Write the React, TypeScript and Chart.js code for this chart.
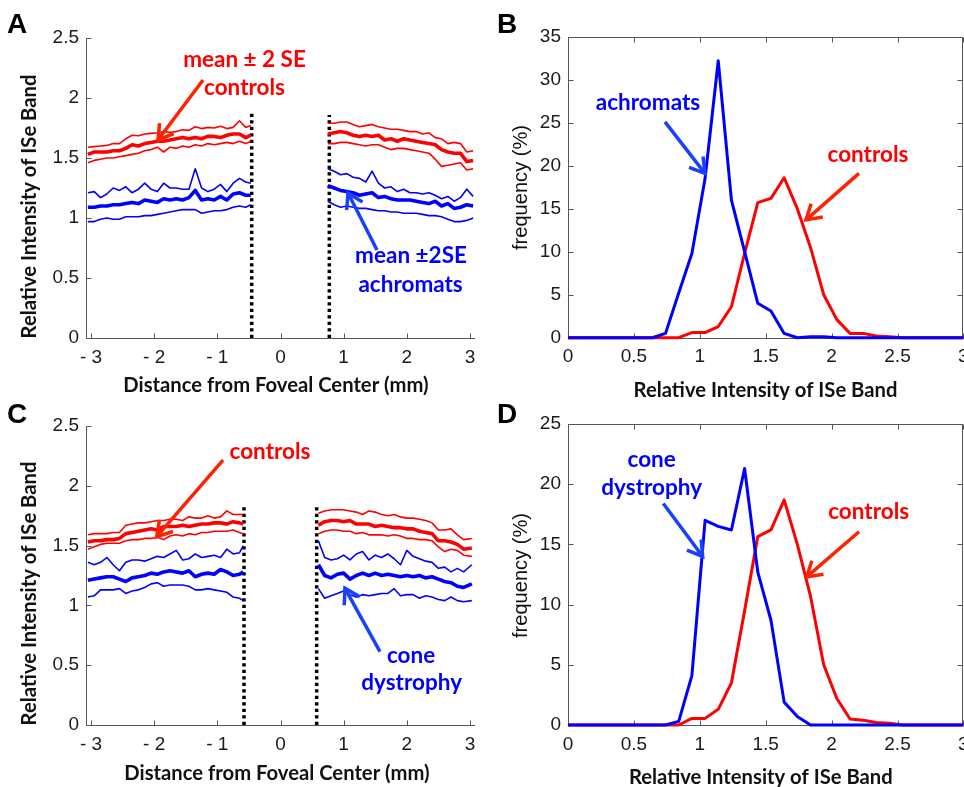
import React, { useEffect, useRef } from "react";
import { Chart, registerables } from "chart.js";

Chart.register(...registerables);

// ---------------- Panel A data (distance from foveal center, mm) ----------------
const distLeftA = [-3.05, -2.95, -2.85, -2.75, -2.65, -2.55, -2.45, -2.35, -2.25, -2.15, -2.05, -1.95, -1.85, -1.75, -1.65, -1.55, -1.45, -1.35, -1.25, -1.15, -1.05, -0.95, -0.85, -0.75, -0.65, -0.55, -0.47];
const distRightA = [0.75, 0.85, 0.95, 1.05, 1.15, 1.25, 1.35, 1.45, 1.55, 1.65, 1.75, 1.85, 1.95, 2.05, 2.15, 2.25, 2.35, 2.45, 2.55, 2.65, 2.75, 2.85, 2.95, 3.05];

const ctrlUpperLeftA = [1.59, 1.595, 1.6, 1.605, 1.62, 1.62, 1.66, 1.69, 1.685, 1.7, 1.705, 1.71, 1.72, 1.715, 1.72, 1.735, 1.73, 1.76, 1.745, 1.755, 1.75, 1.765, 1.745, 1.755, 1.81, 1.755, 1.77];
const ctrlMeanLeftA = [1.53, 1.55, 1.55, 1.55, 1.56, 1.56, 1.58, 1.61, 1.6, 1.62, 1.63, 1.64, 1.64, 1.65, 1.66, 1.67, 1.66, 1.67, 1.66, 1.68, 1.68, 1.67, 1.69, 1.7, 1.7, 1.67, 1.69];
const ctrlLowerLeftA = [1.46, 1.48, 1.49, 1.5, 1.5, 1.51, 1.52, 1.53, 1.54, 1.56, 1.57, 1.59, 1.55, 1.59, 1.58, 1.6, 1.59, 1.61, 1.6, 1.62, 1.61, 1.62, 1.63, 1.62, 1.64, 1.62, 1.64];
const achUpperLeftA = [1.21, 1.22, 1.17, 1.2, 1.25, 1.23, 1.26, 1.21, 1.24, 1.29, 1.24, 1.22, 1.29, 1.25, 1.25, 1.24, 1.24, 1.41, 1.25, 1.22, 1.24, 1.28, 1.22, 1.29, 1.33, 1.3, 1.29];
const achMeanLeftA = [1.09, 1.09, 1.1, 1.1, 1.11, 1.11, 1.12, 1.13, 1.12, 1.15, 1.14, 1.13, 1.16, 1.15, 1.16, 1.15, 1.17, 1.23, 1.15, 1.16, 1.15, 1.18, 1.15, 1.2, 1.21, 1.19, 1.19];
const achLowerLeftA = [0.97, 0.97, 0.99, 1.0, 0.99, 0.99, 1.01, 1.01, 1.01, 1.02, 1.02, 1.03, 1.04, 1.05, 1.06, 1.07, 1.07, 1.07, 1.04, 1.05, 1.06, 1.06, 1.07, 1.09, 1.1, 1.09, 1.11];

const ctrlUpperRightA = [1.79, 1.79, 1.8, 1.8, 1.78, 1.76, 1.77, 1.78, 1.76, 1.75, 1.74, 1.74, 1.73, 1.72, 1.72, 1.7, 1.71, 1.67, 1.66, 1.62, 1.63, 1.62, 1.55, 1.56];
const ctrlMeanRightA = [1.7, 1.71, 1.72, 1.71, 1.69, 1.68, 1.69, 1.68, 1.69, 1.65, 1.66, 1.64, 1.66, 1.65, 1.64, 1.63, 1.62, 1.61, 1.57, 1.55, 1.54, 1.54, 1.47, 1.48];
const ctrlLowerRightA = [1.62, 1.62, 1.63, 1.63, 1.62, 1.61, 1.6, 1.61, 1.61, 1.59, 1.57, 1.58, 1.58, 1.57, 1.56, 1.55, 1.54, 1.49, 1.43, 1.44, 1.45, 1.46, 1.4, 1.41];
const achUpperRightA = [1.41, 1.39, 1.36, 1.37, 1.34, 1.33, 1.3, 1.39, 1.29, 1.25, 1.26, 1.22, 1.24, 1.21, 1.21, 1.2, 1.21, 1.19, 1.16, 1.18, 1.14, 1.17, 1.24, 1.18];
const achMeanRightA = [1.27, 1.25, 1.23, 1.22, 1.21, 1.19, 1.2, 1.21, 1.17, 1.18, 1.16, 1.15, 1.15, 1.15, 1.14, 1.13, 1.12, 1.14, 1.1, 1.12, 1.08, 1.09, 1.11, 1.1];
const achLowerRightA = [1.14, 1.11, 1.09, 1.1, 1.09, 1.08, 1.08, 1.07, 1.06, 1.06, 1.05, 1.05, 1.04, 1.04, 1.04, 1.03, 1.02, 1.02, 1.01, 0.99, 0.97, 0.97, 0.98, 1.0];

// ---------------- Panel C data ----------------
const distLeftC = [-3.05, -2.95, -2.85, -2.75, -2.65, -2.55, -2.45, -2.35, -2.25, -2.15, -2.05, -1.95, -1.85, -1.75, -1.65, -1.55, -1.45, -1.35, -1.25, -1.15, -1.05, -0.95, -0.85, -0.75, -0.65, -0.59];
const distRightC = [0.6, 0.7, 0.8, 0.9, 1.0, 1.1, 1.2, 1.3, 1.4, 1.5, 1.6, 1.7, 1.8, 1.9, 2.0, 2.1, 2.2, 2.3, 2.4, 2.5, 2.6, 2.7, 2.8, 2.9, 3.03];

const ctrlUpperLeftC = [1.59, 1.6, 1.6, 1.6, 1.61, 1.61, 1.67, 1.68, 1.69, 1.69, 1.7, 1.71, 1.71, 1.72, 1.72, 1.71, 1.74, 1.73, 1.73, 1.75, 1.73, 1.74, 1.79, 1.76, 1.76, 1.76];
const ctrlMeanLeftC = [1.53, 1.54, 1.54, 1.55, 1.55, 1.56, 1.6, 1.61, 1.62, 1.63, 1.64, 1.63, 1.66, 1.66, 1.66, 1.67, 1.66, 1.67, 1.68, 1.68, 1.69, 1.69, 1.68, 1.7, 1.69, 1.68];
const ctrlLowerLeftC = [1.47, 1.49, 1.51, 1.52, 1.52, 1.52, 1.54, 1.55, 1.55, 1.56, 1.56, 1.57, 1.55, 1.58, 1.59, 1.58, 1.6, 1.59, 1.61, 1.61, 1.62, 1.62, 1.62, 1.63, 1.61, 1.6];
const coneUpperLeftC = [1.36, 1.34, 1.36, 1.4, 1.34, 1.29, 1.36, 1.38, 1.38, 1.37, 1.39, 1.41, 1.4, 1.43, 1.46, 1.38, 1.39, 1.43, 1.4, 1.41, 1.42, 1.4, 1.47, 1.43, 1.44, 1.5];
const coneMeanLeftC = [1.21, 1.22, 1.23, 1.24, 1.24, 1.22, 1.2, 1.23, 1.24, 1.25, 1.27, 1.26, 1.28, 1.29, 1.28, 1.27, 1.29, 1.24, 1.26, 1.27, 1.26, 1.3, 1.28, 1.25, 1.26, 1.28];
const coneLowerLeftC = [1.07, 1.08, 1.13, 1.13, 1.13, 1.14, 1.1, 1.12, 1.13, 1.15, 1.18, 1.19, 1.16, 1.17, 1.17, 1.17, 1.16, 1.13, 1.13, 1.14, 1.13, 1.12, 1.11, 1.07, 1.06, 1.04];

const ctrlUpperRightC = [1.77, 1.79, 1.8, 1.8, 1.8, 1.79, 1.78, 1.76, 1.79, 1.78, 1.76, 1.75, 1.76, 1.74, 1.73, 1.73, 1.72, 1.71, 1.69, 1.63, 1.63, 1.64, 1.59, 1.55, 1.56];
const ctrlMeanRightC = [1.67, 1.7, 1.71, 1.71, 1.7, 1.71, 1.68, 1.68, 1.68, 1.66, 1.67, 1.66, 1.65, 1.65, 1.64, 1.64, 1.62, 1.61, 1.6, 1.54, 1.54, 1.53, 1.51, 1.47, 1.48];
const ctrlLowerRightC = [1.6, 1.62, 1.63, 1.63, 1.62, 1.62, 1.6, 1.61, 1.59, 1.59, 1.59, 1.58, 1.59, 1.58, 1.56, 1.56, 1.55, 1.55, 1.54, 1.49, 1.45, 1.47, 1.46, 1.42, 1.41];
const coneUpperRightC = [1.54, 1.4, 1.38, 1.39, 1.42, 1.38, 1.43, 1.45, 1.38, 1.42, 1.4, 1.43, 1.39, 1.34, 1.46, 1.41, 1.39, 1.37, 1.36, 1.31, 1.32, 1.28, 1.31, 1.28, 1.34];
const coneMeanRightC = [1.34, 1.25, 1.23, 1.26, 1.27, 1.22, 1.25, 1.27, 1.25, 1.27, 1.25, 1.26, 1.25, 1.24, 1.25, 1.24, 1.25, 1.23, 1.24, 1.22, 1.2, 1.19, 1.16, 1.15, 1.18];
const coneLowerRightC = [1.14, 1.06, 1.08, 1.1, 1.12, 1.09, 1.07, 1.09, 1.08, 1.09, 1.1, 1.1, 1.14, 1.08, 1.09, 1.09, 1.06, 1.08, 1.07, 1.05, 1.04, 1.07, 1.04, 1.03, 1.04];

// fovea gap boundaries (dotted lines): [x, top]
const gapLeftA = [-0.456, 1.872];
const gapRightA = [0.773, 1.858];
const gapLeftC = [-0.578, 1.82];
const gapRightC = [0.573, 1.82];

// ---------------- Histograms (B, D) ----------------
const intensityBins = [0, 0.54, 0.64, 0.74, 0.84, 0.94, 1.04, 1.14, 1.24, 1.34, 1.44, 1.54, 1.64, 1.74, 1.84, 1.94, 2.04, 2.14, 2.24, 2.34, 2.44, 2.54, 2.64, 3.0];
const achromatFreq = [0, 0, 0, 0.5, 5.2, 9.8, 18.5, 32.2, 16.0, 10.0, 4.0, 3.1, 0.5, 0, 0.1, 0.1, 0, 0, 0, 0, 0, 0, 0, 0];
const controlFreqB = [0, 0, 0, 0, 0, 0.6, 0.6, 1.3, 3.6, 9.8, 15.7, 16.2, 18.6, 15.0, 10.5, 5.0, 2.1, 0.5, 0.5, 0.2, 0.1, 0, 0, 0];
const coneFreq = [0, 0, 0, 0, 0.3, 4.1, 17.0, 16.5, 16.2, 21.3, 12.7, 8.7, 1.9, 0.7, 0, 0, 0, 0, 0, 0, 0, 0, 0, 0];
const controlFreqD = [0, 0, 0, 0, 0, 0.55, 0.55, 1.3, 3.5, 9.5, 15.65, 16.2, 18.7, 15.0, 10.7, 5.0, 2.2, 0.5, 0.4, 0.2, 0.15, 0, 0, 0];

// ---------------- Ticks ----------------
const distTicks = [-3, -2, -1, 0, 1, 2, 3];
const distTickLabels = ["- 3", "- 2", "- 1", "0", "1", "2", "3"];
const intensityTicks = [0, 0.5, 1, 1.5, 2, 2.5];
const intensityTickLabels = ["0", "0.5", "1", "1.5", "2", "2.5"];
const histXTicks = [0, 0.5, 1, 1.5, 2, 2.5, 3];
const histXTickLabels = ["0", "0.5", "1", "1.5", "2", "2.5", "3"];
const freqTicksB = [0, 5, 10, 15, 20, 25, 30, 35];
const freqTickLabelsB = ["0", "5", "10", "15", "20", "25", "30", "35"];
const freqTicksD = [0, 5, 10, 15, 20, 25];
const freqTickLabelsD = ["0", "5", "10", "15", "20", "25"];

// ---------------- Styles ----------------
const RED = "#ff0000";
const BLUE = "#0000ff";
const ARROW_RED = "#ff2200";
const ARROW_BLUE = "#1a40ff";
const AXIS = "#555555";
const TICK_FONT = "'Liberation Sans', Arial, Helvetica, sans-serif";
const BOLD_FONT = "Lato, 'Open Sans', sans-serif";

function pts(xs: number[], ys: number[]) {
  return xs.map((x, i) => ({ x, y: ys[i] }));
}
function line(xs: number[], ys: number[], color: string, width: number) {
  return { data: pts(xs, ys), borderColor: color, backgroundColor: color, borderWidth: width, pointRadius: 0, tension: 0, fill: false, clip: false, borderJoinStyle: "round" };
}
function dotted(g: number[]) {
  return { data: [{ x: g[0], y: 0 }, { x: g[0], y: g[1] }], borderColor: "#000", borderWidth: 3.5, borderDash: [3.2, 3.3], pointRadius: 0, fill: false, clip: false };
}

function fitSize(ctx: CanvasRenderingContext2D, text: string, width: number, weight: string, family: string) {
  ctx.font = `${weight} 40px ${family}`;
  return (40 * width) / ctx.measureText(text).width;
}

function drawArrow(ctx: CanvasRenderingContext2D, x1: number, y1: number, x2: number, y2: number, color: string) {
  const ang = Math.atan2(y2 - y1, x2 - x1);
  const head = 17;
  const spread = 0.55;
  ctx.save();
  ctx.strokeStyle = color;
  ctx.lineWidth = 3.5;
  ctx.lineCap = "butt";
  ctx.lineJoin = "miter";
  ctx.beginPath();
  ctx.moveTo(x1, y1);
  ctx.lineTo(x2, y2);
  ctx.stroke();
  ctx.beginPath();
  ctx.moveTo(x2 - head * Math.cos(ang + spread), y2 - head * Math.sin(ang + spread));
  ctx.lineTo(x2, y2);
  ctx.lineTo(x2 - head * Math.cos(ang - spread), y2 - head * Math.sin(ang - spread));
  ctx.stroke();
  ctx.restore();
}

type Spec = any;

function Panel({ spec }: { spec: Spec }) {
  const ref = useRef<HTMLCanvasElement>(null);
  useEffect(() => {
    const s = spec;
    const canvas = ref.current as HTMLCanvasElement;
    const decor = {
      id: "decor",
      beforeDatasetsDraw(chart: any) {
        const { ctx, chartArea: a, scales } = chart;
        const xs = scales.x, ys = scales.y;
        const L = Math.round(a.left) + 0.5, R = Math.round(a.right) - 0.5, T = Math.round(a.top) + 0.5, B = Math.round(a.bottom) + 0.5;
        ctx.save();
        ctx.strokeStyle = AXIS;
        ctx.lineWidth = 1;
        ctx.beginPath();
        if (s.box) {
          ctx.rect(L, T, R - L, B - T);
        } else {
          ctx.moveTo(L, T);
          ctx.lineTo(L, B);
          ctx.lineTo(a.right, B);
        }
        const TL = 5;
        for (const v of s.xTicks) {
          const px = Math.round(xs.getPixelForValue(v)) + 0.5;
          ctx.moveTo(px, B);
          ctx.lineTo(px, B - TL);
          if (s.box) { ctx.moveTo(px, T); ctx.lineTo(px, T + TL); }
        }
        for (const v of s.yTicks) {
          const py = Math.round(ys.getPixelForValue(v)) + 0.5;
          ctx.moveTo(L, py);
          ctx.lineTo(L + TL, py);
          if (s.box) { ctx.moveTo(R, py); ctx.lineTo(R - TL, py); }
        }
        ctx.stroke();
        ctx.restore();
      },
      afterDatasetsDraw(chart: any) {
        const { ctx, scales } = chart;
        const xs = scales.x, ys = scales.y;
        ctx.save();
        const size = fitSize(ctx, "controls", 81, "700", BOLD_FONT);
        ctx.font = `700 ${size}px ${BOLD_FONT}`;
        ctx.textAlign = "center";
        ctx.textBaseline = "alphabetic";
        for (const t of s.texts) {
          ctx.fillStyle = t.color;
          ctx.fillText(t.text, xs.getPixelForValue(t.x), ys.getPixelForValue(t.y));
        }
        ctx.restore();
        for (const ar of s.arrows) {
          drawArrow(ctx, xs.getPixelForValue(ar.x1), ys.getPixelForValue(ar.y1), xs.getPixelForValue(ar.x2), ys.getPixelForValue(ar.y2), ar.color);
        }
      },
      afterDraw(chart: any) {
        const ctx = chart.ctx as CanvasRenderingContext2D;
        ctx.save();
        ctx.fillStyle = "#000";
        ctx.font = `700 28px ${TICK_FONT}`;
        ctx.textAlign = "left";
        ctx.textBaseline = "alphabetic";
        ctx.fillText(s.letter.text, s.letter.x, s.letter.y);
        const titleSize = fitSize(ctx, "Relative Intensity of ISe Band", 264, "700", BOLD_FONT);
        const drawTitle = (t: any) => {
          const size = t.bold ? titleSize : fitSize(ctx, t.text, t.width, "400", TICK_FONT);
          ctx.font = t.bold ? `700 ${size}px ${BOLD_FONT}` : `400 ${size}px ${TICK_FONT}`;
          ctx.fillStyle = "#111";
          ctx.textAlign = "center";
          ctx.textBaseline = "alphabetic";
          if (t.rotate) {
            ctx.save();
            ctx.translate(t.x, t.y);
            ctx.rotate(-Math.PI / 2);
            ctx.fillText(t.text, 0, 0);
            ctx.restore();
          } else {
            ctx.fillText(t.text, t.x, t.y);
          }
        };
        drawTitle(s.xTitle);
        drawTitle(s.yTitle);
        ctx.restore();
      },
    };
    const tickFont = { family: TICK_FONT, size: 19 };
    const chart = new Chart(canvas, {
      type: "line",
      data: { datasets: s.datasets },
      options: {
        responsive: false,
        animation: false,
        devicePixelRatio: 1,
        events: [],
        layout: { padding: { left: 0, top: s.area.t, right: s.W - s.area.r, bottom: 0 } },
        plugins: { legend: { display: false }, tooltip: { enabled: false }, title: { display: false } },
        scales: {
          x: {
            type: "linear",
            min: s.xMin,
            max: s.xMax,
            afterBuildTicks: (sc: any) => { sc.ticks = s.xTicks.map((v: number) => ({ value: v })); },
            afterFit: (sc: any) => { sc.height = s.H - s.area.b; sc.paddingLeft = 0; sc.paddingRight = 0; },
            grid: { display: false, drawTicks: false },
            border: { display: false },
            ticks: { callback: (_v: any, i: number) => s.xTickLabels[i], autoSkip: false, maxRotation: 0, minRotation: 0, padding: 8, color: "#1a1a1a", font: tickFont },
          },
          y: {
            type: "linear",
            min: s.yMin,
            max: s.yMax,
            afterBuildTicks: (sc: any) => { sc.ticks = s.yTicks.map((v: number) => ({ value: v })); },
            afterFit: (sc: any) => { sc.width = s.area.l; sc.paddingTop = 0; sc.paddingBottom = 0; },
            grid: { display: false, drawTicks: false },
            border: { display: false },
            ticks: { callback: (_v: any, i: number) => s.yTickLabels[i], autoSkip: false, padding: 7, color: "#1a1a1a", font: tickFont },
          },
        },
      } as any,
      plugins: [decor as any],
    });
    return () => chart.destroy();
  }, [spec]);
  return (
    <canvas
      ref={ref}
      width={spec.W}
      height={spec.H}
      style={{ position: "absolute", left: spec.left, top: spec.top, width: spec.W, height: spec.H }}
    />
  );
}

const THIN = 1.6;
const THICK = 3.6;

const specA = {
  left: 0, top: 0, W: 482, H: 400,
  area: { l: 86, t: 38, r: 475, b: 338 },
  xMin: -3.08, xMax: 3.08, yMin: 0, yMax: 2.5,
  xTicks: distTicks, xTickLabels: distTickLabels, yTicks: intensityTicks, yTickLabels: intensityTickLabels,
  box: false,
  datasets: [
    line(distLeftA, ctrlUpperLeftA, RED, THIN),
    line(distLeftA, ctrlMeanLeftA, RED, THICK),
    line(distLeftA, ctrlLowerLeftA, RED, THIN),
    line(distLeftA, achUpperLeftA, BLUE, THIN),
    line(distLeftA, achMeanLeftA, BLUE, THICK),
    line(distLeftA, achLowerLeftA, BLUE, THIN),
    line(distRightA, ctrlUpperRightA, RED, THIN),
    line(distRightA, ctrlMeanRightA, RED, THICK),
    line(distRightA, ctrlLowerRightA, RED, THIN),
    line(distRightA, achUpperRightA, BLUE, THIN),
    line(distRightA, achMeanRightA, BLUE, THICK),
    line(distRightA, achLowerRightA, BLUE, THIN),
    dotted(gapLeftA),
    dotted(gapRightA),
  ],
  texts: [
    { text: "mean ± 2 SE", x: -0.57, y: 2.26, color: RED },
    { text: "controls", x: -0.57, y: 2.025, color: RED },
    { text: "mean ±2SE", x: 2.067, y: 0.625, color: BLUE },
    { text: "achromats", x: 2.06, y: 0.386, color: BLUE },
  ],
  arrows: [
    { x1: -1.227, y1: 2.15, x2: -1.94, y2: 1.65, color: ARROW_RED },
    { x1: 1.528, y1: 0.733, x2: 1.069, y2: 1.208, color: ARROW_BLUE },
  ],
  letter: { text: "A", x: 7, y: 33 },
  yTitle: { text: "Relative Intensity of ISe Band", x: 36, y: 206.5, bold: true, rotate: true },
  xTitle: { text: "Distance from Foveal Center (mm)", x: 276, y: 392, bold: true },
};

const specB = {
  left: 482, top: 0, W: 482, H: 400,
  area: { l: 86, t: 36.7, r: 481.4, b: 337.7 },
  xMin: 0, xMax: 3, yMin: 0, yMax: 35,
  xTicks: histXTicks, xTickLabels: histXTickLabels, yTicks: freqTicksB, yTickLabels: freqTickLabelsB,
  box: true,
  datasets: [
    line(intensityBins, achromatFreq, BLUE, 3),
    line(intensityBins, controlFreqB, RED, 3),
  ],
  texts: [
    { text: "achromats", x: 0.607, y: 26.47, color: BLUE },
    { text: "controls", x: 2.276, y: 20.4, color: RED },
  ],
  arrows: [
    { x1: 0.736, y1: 25.1, x2: 1.039, y2: 19.1, color: ARROW_BLUE },
    { x1: 2.208, y1: 19.1, x2: 1.806, y2: 13.7, color: ARROW_RED },
  ],
  letter: { text: "B", x: 15, y: 33 },
  yTitle: { text: "frequency (%)", x: 45, y: 187.5, bold: false, rotate: true, width: 125 },
  xTitle: { text: "Relative Intensity of ISe Band", x: 283.5, y: 397, bold: true },
};

const specC = {
  left: 0, top: 400, W: 482, H: 387,
  area: { l: 86, t: 26, r: 475, b: 325 },
  xMin: -3.08, xMax: 3.08, yMin: 0, yMax: 2.5,
  xTicks: distTicks, xTickLabels: distTickLabels, yTicks: intensityTicks, yTickLabels: intensityTickLabels,
  box: false,
  datasets: [
    line(distLeftC, ctrlUpperLeftC, RED, THIN),
    line(distLeftC, ctrlMeanLeftC, RED, THICK),
    line(distLeftC, ctrlLowerLeftC, RED, THIN),
    line(distLeftC, coneUpperLeftC, BLUE, THIN),
    line(distLeftC, coneMeanLeftC, BLUE, THICK),
    line(distLeftC, coneLowerLeftC, BLUE, THIN),
    line(distRightC, ctrlUpperRightC, RED, THIN),
    line(distRightC, ctrlMeanRightC, RED, THICK),
    line(distRightC, ctrlLowerRightC, RED, THIN),
    line(distRightC, coneUpperRightC, BLUE, THIN),
    line(distRightC, coneMeanRightC, BLUE, THICK),
    line(distRightC, coneLowerRightC, BLUE, THIN),
    dotted(gapLeftC),
    dotted(gapRightC),
  ],
  texts: [
    { text: "controls", x: -0.166, y: 2.22, color: RED },
    { text: "cone", x: 2.067, y: 0.516, color: BLUE },
    { text: "dystrophy", x: 2.077, y: 0.293, color: BLUE },
  ],
  arrows: [
    { x1: -0.91, y1: 2.215, x2: -1.96, y2: 1.575, color: ARROW_RED },
    { x1: 1.575, y1: 0.613, x2: 1.021, y2: 1.143, color: ARROW_BLUE },
  ],
  letter: { text: "C", x: 7, y: 23 },
  yTitle: { text: "Relative Intensity of ISe Band", x: 36, y: 193.5, bold: true, rotate: true },
  xTitle: { text: "Distance from Foveal Center (mm)", x: 277, y: 380, bold: true },
};

const specD = {
  left: 482, top: 400, W: 482, H: 387,
  area: { l: 86, t: 24, r: 481.4, b: 325 },
  xMin: 0, xMax: 3, yMin: 0, yMax: 25,
  xTicks: histXTicks, xTickLabels: histXTickLabels, yTicks: freqTicksD, yTickLabels: freqTickLabelsD,
  box: true,
  datasets: [
    line(intensityBins, coneFreq, BLUE, 3),
    line(intensityBins, controlFreqD, RED, 3),
  ],
  texts: [
    { text: "cone", x: 0.635, y: 21.45, color: BLUE },
    { text: "dystrophy", x: 0.635, y: 19.1, color: BLUE },
    { text: "controls", x: 2.281, y: 17.1, color: RED },
  ],
  arrows: [
    { x1: 0.723, y1: 18.4, x2: 1.022, y2: 14.0, color: ARROW_BLUE },
    { x1: 2.208, y1: 16.05, x2: 1.811, y2: 12.3, color: ARROW_RED },
  ],
  letter: { text: "D", x: 15, y: 23 },
  yTitle: { text: "frequency (%)", x: 45, y: 175.5, bold: false, rotate: true, width: 125 },
  xTitle: { text: "Relative Intensity of ISe Band", x: 278.8, y: 384, bold: true },
};

export default function App() {
  return (
    <div style={{ position: "absolute", left: 0, top: 0, width: 964, height: 787, overflow: "hidden", background: "#fff" }}>
      <Panel spec={specA} />
      <Panel spec={specB} />
      <Panel spec={specC} />
      <Panel spec={specD} />
    </div>
  );
}
